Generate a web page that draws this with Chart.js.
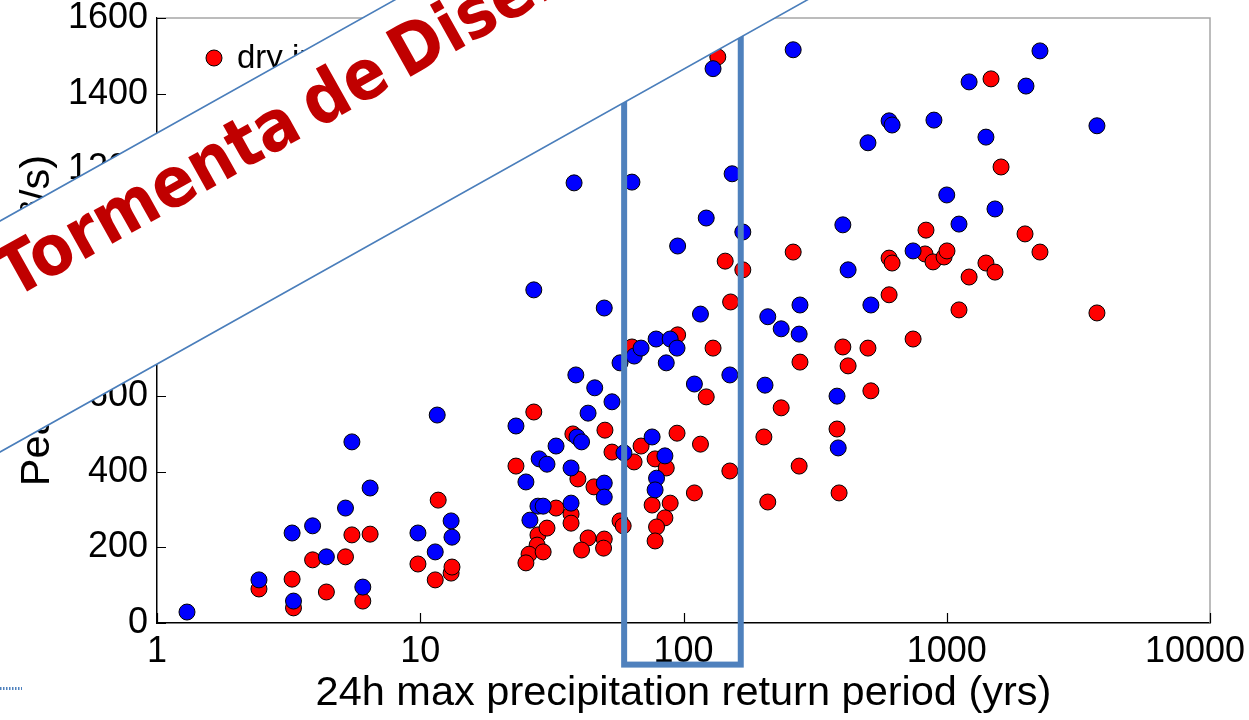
<!DOCTYPE html>
<html>
<head>
<meta charset="utf-8">
<script src="https://cdn.jsdelivr.net/npm/chart.js@4.4.1/dist/chart.umd.min.js"></script>
<style>
  html, body { margin: 0; padding: 0; background: #fff; }
</style>
</head>
<body>
<canvas id="myChart" width="1249" height="720"></canvas>
<script>
// return period (yrs) and peak discharge
const dryX = [2.44, 3.26, 3.3, 3.9, 4.4, 5.2, 5.5, 6.45, 6.05, 9.8, 11.4, 11.7, 13.1, 13.2,
    23.1, 27, 38, 50.3, 53.5, 69, 64.9, 78, 86, 39.7, 45.7, 32.8, 37.4, 37.4, 28, 30.3,
    27.8, 25.9, 29.3, 25.2, 43.4, 41, 50, 49.7, 57.4, 59, 76, 89, 85, 79, 78,
    95, 63.7, 129.5, 122, 150, 110, 116, 94.5, 202, 235, 209, 277, 275,
    144, 168, 151, 135, 261,
    403, 502, 422, 745, 383, 390, 515,
    1473, 1608, 834, 1983, 2260, 827, 887, 977, 1002, 604, 620, 1409, 1525, 1216, 604, 1113, 3720];
const dryY = [90, 116, 40, 167, 82, 175, 233, 235, 58, 156, 114, 325, 132, 148,
    415, 558, 500, 510, 452, 468, 426, 434, 410, 381, 360, 304, 288, 264, 233, 251,
    206, 182, 188, 159, 225, 193, 222, 198, 270, 257, 312, 317, 278, 254, 217,
    762, 730, 727, 598, 402, 344, 473, 502, 492, 569, 320, 690, 415,
    957, 934, 849, 1497, 981,
    730, 727, 680, 751, 513, 344, 614,
    1439, 1206, 1039, 1029, 981, 976, 955, 968, 984, 965, 952, 952, 928, 915, 868, 828, 820];

const wetX = [1.3, 2.44, 3.3, 3.26, 3.9, 4.4, 5.2, 5.5, 6.45, 6.05, 9.8, 11.4, 13.1, 13.2, 11.6,
    23.1, 39, 46, 43.4, 53.5, 32.8, 39.4, 41, 28.3, 30.3, 25.2, 37.4, 50, 50, 28, 29.3, 37.4, 26.1,
    59.4, 57.4, 65, 69, 78.7, 89, 94.5, 86, 76, 85, 79, 78,
    116, 110, 150, 209, 235, 275, 277, 204,
    50, 27, 38.4, 63.7, 153, 122, 168, 95, 129.5, 261,
    2260, 1216, 2000, 604, 620, 894, 502, 1409, 3720, 1000, 1525, 403, 1113, 745, 422, 515, 383, 387];
const wetY = [29, 114, 58, 238, 257, 175, 304, 479, 357, 95, 238, 188, 270, 227, 550,
    521, 656, 622, 555, 585, 468, 492, 479, 434, 420, 373, 410, 370, 333, 309, 309, 317, 272,
    450, 688, 706, 727, 751, 751, 727, 688, 492, 442, 383, 352,
    817, 632, 656, 810, 778, 764, 841, 629,
    833, 881, 1164, 1166, 1188, 1071, 1034, 997, 1466, 1516,
    1513, 1431, 1420, 1328, 1317, 1330, 1270, 1285, 1315, 1132, 1095, 1053, 1055, 984, 934, 841, 600, 463];

const xTicks = [1, 10, 100, 1000, 10000];
const yTicks = [0, 200, 400, 600, 800, 1000, 1200, 1400, 1600];
const seriesNames = ['dry initial conditions', 'wet initial conditions'];
const xTitle = '24h max precipitation return period (yrs)';
const yTitle = 'Peak runoff (m³/s)';
const bannerText = 'Tormenta de Diseño';

const FONT = "'Liberation Sans', Arial, sans-serif";
const BANNER_FONT = "'DejaVu Sans Condensed', 'DejaVu Sans', sans-serif";

function toPoints(xs, ys) {
    return xs.map((v, i) => ({ x: v, y: ys[i] }));
}

// ticks pointing inwards + grey box on top/right
const frame = {
    id: 'frame',
    beforeDatasetsDraw(chart) {
        const { ctx, chartArea: a, scales: { x, y } } = chart;
        ctx.save();
        ctx.strokeStyle = '#a6a6a6';
        ctx.lineWidth = 1.5;
        ctx.beginPath();
        ctx.moveTo(a.left, a.top);
        ctx.lineTo(a.right, a.top);
        ctx.lineTo(a.right, a.bottom);
        ctx.stroke();

        ctx.strokeStyle = '#000';
        ctx.lineWidth = 1.2;
        ctx.beginPath();
        yTicks.forEach(v => {
            const py = Math.round(y.getPixelForValue(v)) + 0.5;
            ctx.moveTo(a.left, py);
            ctx.lineTo(a.left + 9, py);
        });
        xTicks.forEach(v => {
            const px = Math.round(x.getPixelForValue(v)) + 0.5;
            ctx.moveTo(px, a.bottom);
            ctx.lineTo(px, a.bottom - 10);
        });
        ctx.stroke();
        ctx.restore();
    }
};

// legend, highlighted band and the title banner on top
const overlay = {
    id: 'overlay',
    afterDraw(chart) {
        const { ctx, chartArea: a, scales: { x, y } } = chart;
        ctx.save();

        // legend (mostly covered by the banner)
        const colors = ['#ff0000', '#0000ff'];
        seriesNames.forEach((name, i) => {
            const cy = a.top + 40 + i * 55;
            ctx.beginPath();
            ctx.arc(a.left + 57, cy, 8, 0, Math.PI * 2);
            ctx.fillStyle = colors[i];
            ctx.fill();
            ctx.lineWidth = 1;
            ctx.strokeStyle = '#000';
            ctx.stroke();
            ctx.fillStyle = '#000';
            ctx.font = '33px ' + FONT;
            ctx.textBaseline = 'alphabetic';
            ctx.fillText(name, a.left + 80, cy + 10);
        });

        // box around the 60-165 yr range
        const x1 = x.getPixelForValue(59.5);
        const x2 = x.getPixelForValue(165);
        const yb = y.getPixelForValue(-110);
        ctx.strokeStyle = '#4f81bd';
        ctx.lineWidth = 6;
        ctx.strokeRect(x1, -20, x2 - x1, yb + 20);

        // diagonal banner
        const ang = 29.25 * Math.PI / 180;
        const k = Math.tan(ang);
        const up = 221, lo = 452;
        ctx.beginPath();
        ctx.moveTo(-50, up + 50 * k);
        ctx.lineTo((up + 50) / k, -50);
        ctx.lineTo((lo + 50) / k, -50);
        ctx.lineTo(-50, lo + 50 * k);
        ctx.closePath();
        ctx.fillStyle = '#fff';
        ctx.fill();
        ctx.strokeStyle = '#4a7ebb';
        ctx.lineWidth = 1.6;
        ctx.beginPath();
        ctx.moveTo(-50, up + 50 * k);
        ctx.lineTo((up + 50) / k, -50);
        ctx.moveTo(-50, lo + 50 * k);
        ctx.lineTo((lo + 50) / k, -50);
        ctx.stroke();

        // narrow, heavy lettering: size it so the first word is ~334px long
        ctx.save();
        ctx.font = 'bold 68px ' + BANNER_FONT;
        if ('fontStretch' in ctx) ctx.fontStretch = 'condensed';
        const w = ctx.measureText('Tormenta').width;
        const fs = 68 * 334 / w;
        ctx.font = 'bold ' + fs.toFixed(1) + 'px ' + BANNER_FONT;
        if ('fontStretch' in ctx) ctx.fontStretch = 'condensed';
        if ('wordSpacing' in ctx) ctx.wordSpacing = '-8px';
        ctx.translate(13.5, 299);
        ctx.rotate(-ang);
        ctx.fillStyle = '#c00000';
        ctx.textBaseline = 'alphabetic';
        ctx.fillText(bannerText, 0, 0);
        ctx.restore();

        // small leftover mark bottom-left
        ctx.strokeStyle = '#4f81bd';
        ctx.lineWidth = 3;
        ctx.setLineDash([1.5, 1.5]);
        ctx.beginPath();
        ctx.moveTo(0, 688.5);
        ctx.lineTo(22, 688.5);
        ctx.stroke();

        ctx.restore();
    }
};

const ctx = document.getElementById('myChart').getContext('2d');
new Chart(ctx, {
    type: 'scatter',
    data: {
        datasets: [
            {
                label: seriesNames[0],
                data: toPoints(dryX, dryY),
                backgroundColor: '#ff0000',
                borderColor: '#000',
                order: 2
            },
            {
                label: seriesNames[1],
                data: toPoints(wetX, wetY),
                backgroundColor: '#0000ff',
                borderColor: '#000',
                order: 1
            }
        ]
    },
    options: {
        responsive: false,
        animation: false,
        elements: {
            point: { radius: 8, borderWidth: 1, hoverRadius: 8 }
        },
        layout: { padding: { top: 18, right: 39, left: 0, bottom: 0 } },
        plugins: {
            legend: { display: false },
            tooltip: { enabled: false }
        },
        scales: {
            x: {
                type: 'logarithmic',
                min: 1,
                max: 10000,
                afterBuildTicks: s => { s.ticks = xTicks.map(v => ({ value: v })); },
                afterFit: s => { s.height = 97; s.paddingLeft = 0; s.paddingRight = 0; },
                grid: { display: false, drawTicks: false },
                border: { display: true, color: '#000', width: 1.5 },
                ticks: {
                    autoSkip: false,
                    maxRotation: 0,
                    padding: 7,
                    color: '#000',
                    font: { family: FONT, size: 36 },
                    // last label is pulled inside the figure, as in the original
                    callback: v => v === 10000 ? String(v) + '   ' : String(v)
                },
                title: {
                    display: true,
                    text: xTitle,
                    color: '#000',
                    font: { family: FONT, size: 41.5 },
                    padding: { top: 0, bottom: 1.5 }
                }
            },
            y: {
                min: 0,
                max: 1600,
                afterBuildTicks: s => { s.ticks = yTicks.map(v => ({ value: v })); },
                afterFit: s => { s.width = 157; s.paddingTop = 0; s.paddingBottom = 0; },
                grid: { display: false, drawTicks: false },
                border: { display: true, color: '#000', width: 1.5 },
                ticks: {
                    padding: 9,
                    color: '#000',
                    font: { family: FONT, size: 36 },
                    callback: v => String(v)
                },
                title: {
                    display: true,
                    text: yTitle,
                    color: '#000',
                    font: { family: FONT, size: 41.5 },
                    padding: { top: 13, bottom: 0 }
                }
            }
        }
    },
    plugins: [frame, overlay]
});
</script>
</body>
</html>
